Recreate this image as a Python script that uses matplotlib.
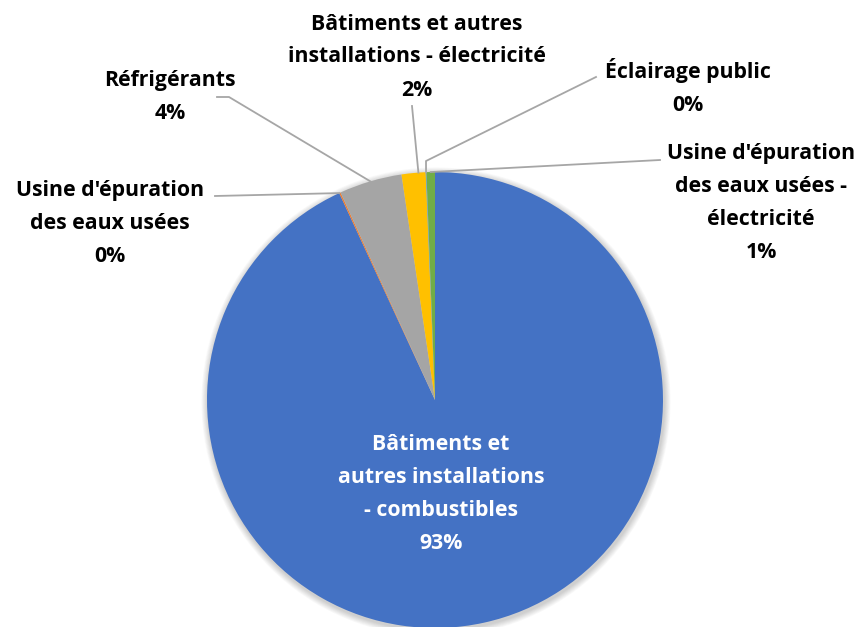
import matplotlib
matplotlib.use("Agg")
import matplotlib.pyplot as plt
import numpy as np
from matplotlib.patches import Circle

# parts (%), in drawing order (clockwise from 12 o'clock)
labels = ["Bâtiments et\nautres installations\n- combustibles",
          "Usine d'épuration\ndes eaux usées",
          "Réfrigérants",
          "Bâtiments et autres\ninstallations - électricité",
          "Éclairage public",
          "Usine d'épuration\ndes eaux usées -\nélectricité"]
values = [93.1, 0.1, 4.45, 1.7, 0.05, 0.6]
colors = ["#4472C4", "#ED7D31", "#A5A5A5", "#FFC000", "#5B9BD5", "#70AD47"]

W, H = 862, 627
cx, cy, R = 435, H - 400, 228

plt.rcParams['font.family'] = ['Open Sans', 'DejaVu Sans']
fig = plt.figure(figsize=(W / 100, H / 100), dpi=100)
ax = fig.add_axes([0, 0, 1, 1])

# soft shadow behind the pie
for i in range(8):
    ax.add_patch(Circle((cx + 1, cy - 2), R + 1 + i * 0.8, color='black',
                        alpha=0.025, lw=0, zorder=0))

wedges, _ = ax.pie(values, colors=colors, startangle=90, counterclock=False,
                   center=(cx, cy), radius=R, frame=True,
                   wedgeprops=dict(linewidth=0, zorder=2))
ax.set_xlim(0, W)
ax.set_ylim(0, H)
ax.set_aspect('equal')
ax.axis('off')

pct = ["%d%%" % round(v) for v in values]
fs = 15.3
lsp = 1.75

# inside label for the big slice
ax.text(441, H - 494, labels[0] + "\n" + pct[0], ha='center', va='center',
        color='white', fontsize=fs, fontweight='bold', linespacing=lsp, zorder=5)

# outside labels: text centre (px) and leader path (px) ending on the slice
outside = {
    1: dict(xy=(110, 224), path=[(215, 196)], frac=0.0),
    2: dict(xy=(170, 97), path=[(217, 97), (229, 97)], frac=0.5),
    3: dict(xy=(417, 57), path=[(412, 106)], frac=0.7),
    4: dict(xy=(688, 87), path=[(596, 77), (426, 161)], frac=0.5),
    5: dict(xy=(761, 203), path=[(660, 160)], frac=0.5),
}

ang = np.cumsum([0] + values)
for i, o in outside.items():
    a = 90 - 3.6 * (ang[i] + o['frac'] * values[i])
    ex = cx + R * np.cos(np.radians(a))
    ey = cy + R * np.sin(np.radians(a))
    px = [p[0] for p in o['path']] + [ex]
    py = [H - p[1] for p in o['path']] + [ey]
    ax.plot(px, py, color='#A6A6A6', lw=1.3, zorder=3)
    ax.text(o['xy'][0], H - o['xy'][1], labels[i] + "\n" + pct[i],
            ha='center', va='center', color='black', fontsize=fs,
            fontweight='bold', linespacing=lsp, zorder=5)

fig.savefig("out.png", dpi=100)
